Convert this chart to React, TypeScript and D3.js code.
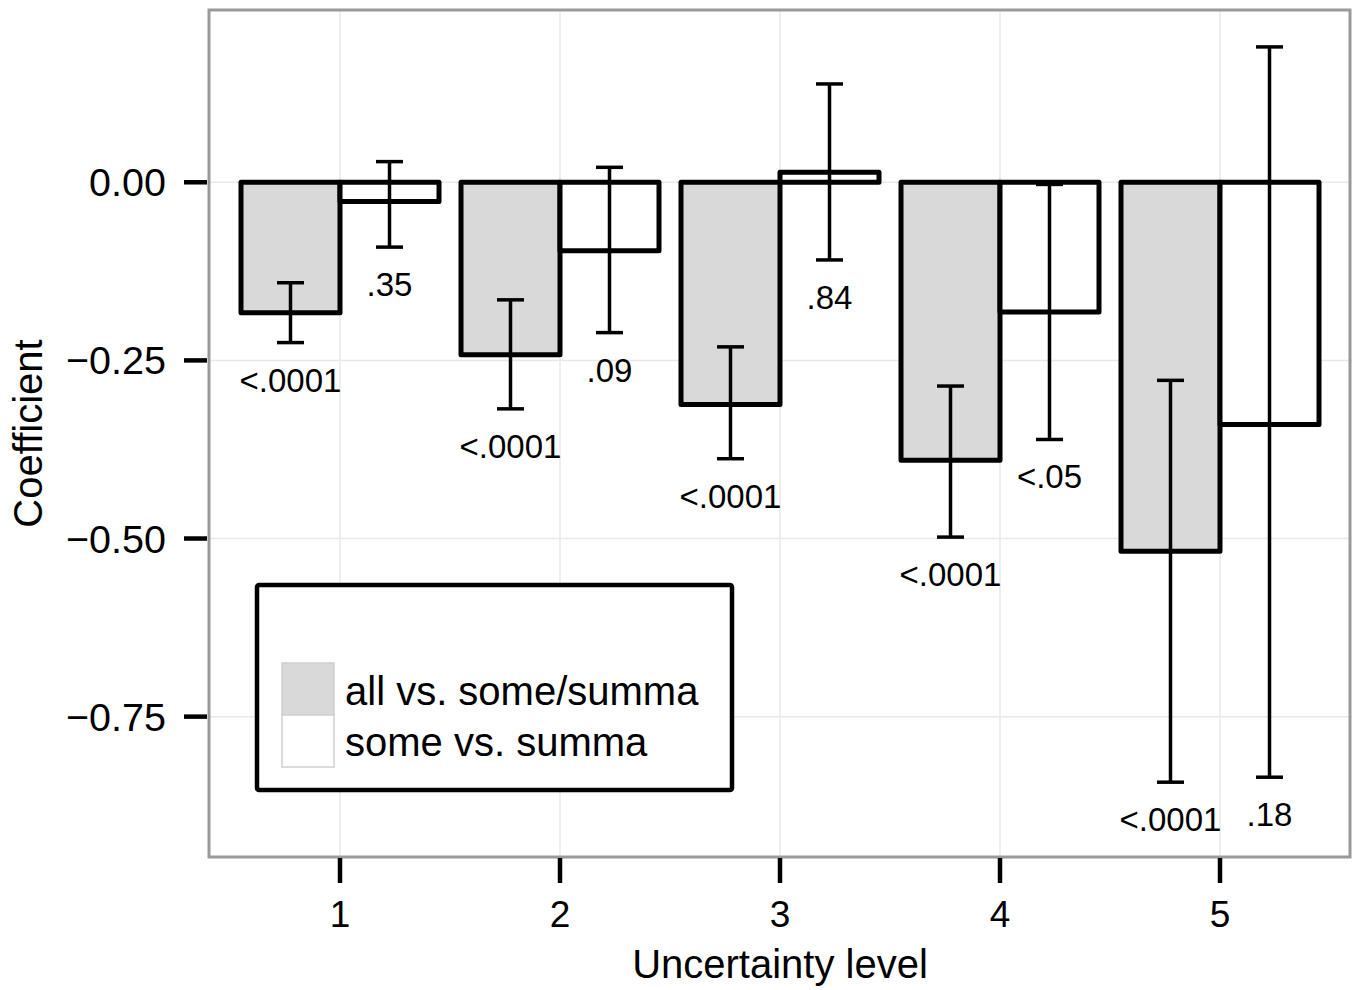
import * as d3 from "d3";

const levels = ["1", "2", "3", "4", "5"];
const seriesNames = ["all vs. some/summa", "some vs. summa"];
const seriesFill = ["#d9d9d9", "#ffffff"];

// all vs. some/summa
const allCoef = [-0.183, -0.242, -0.312, -0.39, -0.518];
const allLow = [-0.225, -0.318, -0.388, -0.498, -0.842];
const allHigh = [-0.141, -0.165, -0.231, -0.286, -0.278];
const allP = ["<.0001", "<.0001", "<.0001", "<.0001", "<.0001"];

// some vs. summa
const someCoef = [-0.027, -0.096, 0.014, -0.182, -0.34];
const someLow = [-0.091, -0.211, -0.109, -0.361, -0.835];
const someHigh = [0.029, 0.021, 0.138, -0.003, 0.19];
const someP = [".35", ".09", ".84", "<.05", ".18"];

const yTicks = [0, -0.25, -0.5, -0.75];

const W = 1359;
const H = 990;
const left = 208;
const right = 1352;
const top = 10;
const bottom = 857;
const font = "'Liberation Sans', Arial, Helvetica, sans-serif";

const rows = levels.flatMap((lv, i) => [
  { level: lv, series: seriesNames[0], coef: allCoef[i], lo: allLow[i], hi: allHigh[i], p: allP[i] },
  { level: lv, series: seriesNames[1], coef: someCoef[i], lo: someLow[i], hi: someHigh[i], p: someP[i] },
]);

const fmt = (v: number) => (v < 0 ? "\u2212" : "") + Math.abs(v).toFixed(2);

export default function App() {
  const x = d3.scaleBand().domain(levels).range([left, right]).paddingInner(0.1).paddingOuter(0.15);
  const xs = d3.scaleBand().domain(seriesNames).range([0, x.bandwidth()]);
  const y = d3.scaleLinear().domain([-0.947, 0.2418]).range([bottom, top]);
  const fill = d3.scaleOrdinal<string>().domain(seriesNames).range(seriesFill);
  const center = (lv: string) => (x(lv) as number) + x.bandwidth() / 2;
  const whisker = 13.5;

  return (
    <svg width={W} height={H} style={{ position: "absolute", left: 0, top: 0, background: "#fff" }} fontFamily={font}>
      <rect x={left} y={top} width={right - left} height={bottom - top} fill="#fff" />
      {/* grid */}
      {yTicks.map((t) => (
        <line key={"gy" + t} x1={left} x2={right} y1={y(t)} y2={y(t)} stroke="#e8e8e8" strokeWidth={1.5} />
      ))}
      {levels.map((lv) => (
        <line key={"gx" + lv} x1={center(lv)} x2={center(lv)} y1={top} y2={bottom} stroke="#e8e8e8" strokeWidth={1.5} />
      ))}
      {/* bars */}
      {rows.map((r, i) => {
        const bx = (x(r.level) as number) + (xs(r.series) as number);
        const y0 = y(Math.max(0, r.coef));
        const y1 = y(Math.min(0, r.coef));
        return (
          <rect key={"b" + i} x={bx} y={y0} width={xs.bandwidth()} height={y1 - y0}
            fill={fill(r.series)} stroke="#000" strokeWidth={5} strokeLinejoin="round" />
        );
      })}
      {/* error bars + p labels */}
      {rows.map((r, i) => {
        const cx = (x(r.level) as number) + (xs(r.series) as number) + xs.bandwidth() / 2;
        return (
          <g key={"e" + i} stroke="#000" strokeWidth={3.5}>
            <line x1={cx} x2={cx} y1={y(r.hi)} y2={y(r.lo)} />
            <line x1={cx - whisker} x2={cx + whisker} y1={y(r.hi)} y2={y(r.hi)} />
            <line x1={cx - whisker} x2={cx + whisker} y1={y(r.lo)} y2={y(r.lo)} />
            <text x={cx} y={y(r.lo) + 49} textAnchor="middle" fontSize={33} stroke="none" fill="#000">{r.p}</text>
          </g>
        );
      })}
      {/* panel border */}
      <rect x={209} y={top} width={1141} height={bottom - top} fill="none" stroke="#999" strokeWidth={3} />
      {/* y axis */}
      {yTicks.map((t) => (
        <g key={"ty" + t}>
          <line x1={184} x2={207} y1={y(t)} y2={y(t)} stroke="#000" strokeWidth={4.5} />
          <text x={166} y={y(t) + 14} textAnchor="end" fontSize={39.5} fill="#000">{fmt(t)}</text>
        </g>
      ))}
      {/* x axis */}
      {levels.map((lv) => (
        <g key={"tx" + lv}>
          <line x1={center(lv)} x2={center(lv)} y1={858} y2={883} stroke="#000" strokeWidth={4.5} />
          <text x={center(lv)} y={927} textAnchor="middle" fontSize={37} fill="#000">{lv}</text>
        </g>
      ))}
      <text x={(left + right) / 2} y={978} textAnchor="middle" fontSize={40} fill="#000">Uncertainty level</text>
      <text transform={`translate(42,${(top + bottom) / 2}) rotate(-90)`} textAnchor="middle" fontSize={40} fill="#000">Coefficient</text>
      {/* legend */}
      <g>
        <rect x={257} y={585} width={475} height={205} rx={2} fill="#fff" stroke="#000" strokeWidth={4.5} />
        {seriesNames.map((s, i) => (
          <g key={"lg" + i}>
            <rect x={282} y={663 + i * 52} width={52} height={52} fill={fill(s)} stroke="#d0d0d0" strokeWidth={1.5} />
            <text x={345} y={705 + i * 51} fontSize={40} fill="#000">{s}</text>
          </g>
        ))}
      </g>
    </svg>
  );
}
